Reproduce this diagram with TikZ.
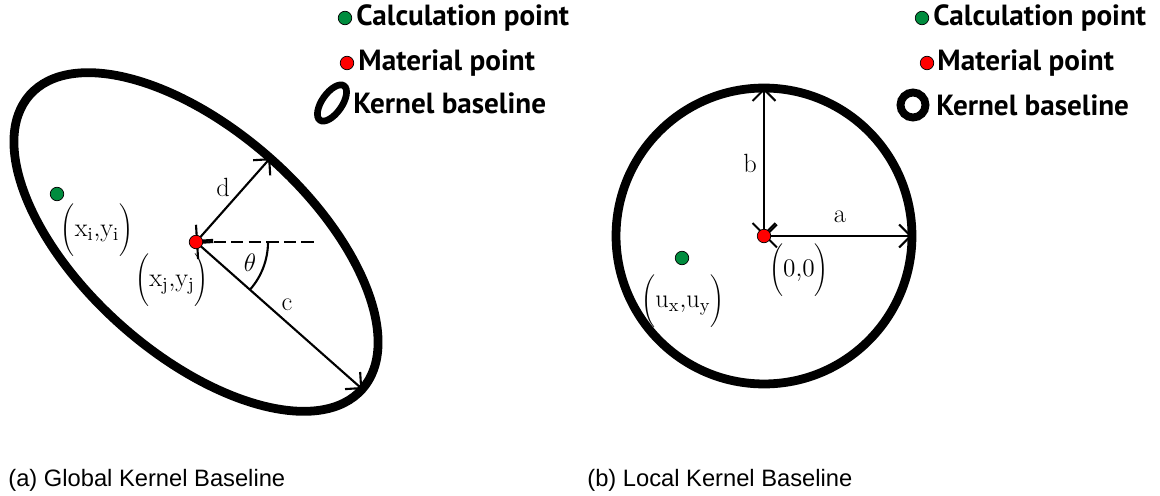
\documentclass[tikz,border=0pt]{standalone}
\usepackage{fontspec}
\usepackage{xcolor}
\usepackage{tikz}
\usetikzlibrary{arrows.meta, positioning, calc, shapes.geometric}
\newfontfamily\legendfont{PT Sans}
\newfontfamily\captionfont{Liberation Sans}
\definecolor{calcgreen}{RGB}{0,140,62}
\definecolor{matred}{RGB}{255,0,0}

\begin{document}
\begin{tikzpicture}[x=0.02cm, y=0.02cm,
  dot/.style={circle, draw=black, line width=0.4pt, inner sep=0pt, minimum size=0.27cm},
  kernel/.style={draw, line width=5pt},
  dim/.style={line width=1.2pt, >={Straight Barb[length=6.5pt,width=13pt]}, <->},
  lbl/.style={font=\fontsize{15}{17}\selectfont, inner sep=0pt},
  legend/.style={font=\legendfont\bfseries\fontsize{16.6}{18}\selectfont, inner sep=0pt},
  caption/.style={font=\captionfont\fontsize{13.5}{16}\selectfont, inner sep=0pt, anchor=west}]
  \useasboundingbox (0,0) rectangle (1160,495);

  % (a) global kernel baseline
  \coordinate (mg) at (196,253);
  \coordinate (dg) at ($(mg)+(48.5:112)$);
  \coordinate (cg) at ($(mg)+(-41.5:222)$);
  \coordinate (hg) at (316,253);
  \draw[kernel, rotate around={-41.5:(mg)}] (mg) ellipse[x radius=4.44cm, y radius=2.24cm];
  \draw[line width=1.5pt, dash pattern=on 7pt off 3pt] (mg) -- (hg);
  \draw[line width=1.2pt] ($(mg)+(72,0)$) arc[start angle=0, end angle=-41.5, radius=1.44cm];
  \draw[dim] (mg) -- (dg);
  \draw[dim] (mg) -- (cg);
  \node[dot, fill=matred] (pg) at (mg) {};
  \node[dot, fill=calcgreen] (qg) at (57,301) {};
  \node[lbl] (dlab) at (223,308) {d};
  \node[lbl] (clab) at (287,190) {c};
  \node[lbl] (tlab) at (250,232) {$\theta$};
  \node[lbl] (xi) at (97,265) {$\Bigg(\mathrm{x_i}{,}\mathrm{y_i}\Bigg)$};
  \node[lbl] (xj) at (172,215) {$\Bigg(\mathrm{x_j}{,}\mathrm{y_j}\Bigg)$};

  % (b) local kernel baseline
  \coordinate (ml) at (764,259);
  \coordinate (bl) at (764,407);
  \coordinate (al) at (912,259);
  \draw[kernel] (ml) circle[radius=2.96cm];
  \draw[dim] (ml) -- (bl);
  \draw[dim] (ml) -- (al);
  \node[dot, fill=matred] (pl) at (ml) {};
  \node[dot, fill=calcgreen] (ql) at (682,237) {};
  \node[lbl] (blab) at (750,332) {b};
  \node[lbl] (alab) at (840,278) {a};
  \node[lbl] (uxy) at (683,194) {$\Bigg(\mathrm{u_x}{,}\mathrm{u_y}\Bigg)$};
  \node[lbl] (zero) at (799,225) {$\Bigg(0{,}0\Bigg)$};

  % legends
  \node[dot, fill=calcgreen] (lg1) at (345,477) {};
  \node[legend, right=0.08cm of lg1] (lt1) {Calculation point};
  \node[dot, fill=matred] (lg2) at (347,432) {};
  \node[legend, right=0.08cm of lg2] (lt2) {Material point};
  \node[draw, ellipse, line width=3.8pt, minimum width=0.84cm, minimum height=0.4cm, inner sep=0pt, rotate=55] (lg3) at (332,392) {};
  \node[legend, anchor=west] (lt3) at (353,392) {Kernel baseline};

  \node[dot, fill=calcgreen] (rg1) at (922,477) {};
  \node[legend, right=0.08cm of rg1] (rt1) {Calculation point};
  \node[dot, fill=matred] (rg2) at (927,432) {};
  \node[legend, right=0.06cm of rg2] (rt2) {Material point};
  \node[draw, circle, line width=4.5pt, minimum size=0.5cm, inner sep=0pt] (rg3) at (913,390) {};
  \node[legend, right=0.13cm of rg3] (rt3) {Kernel baseline};

  \node[caption] (capa) at (8,15) {(a) Global Kernel Baseline};
  \node[caption] (capb) at (587,15) {(b) Local Kernel Baseline};
\end{tikzpicture}
\end{document}
